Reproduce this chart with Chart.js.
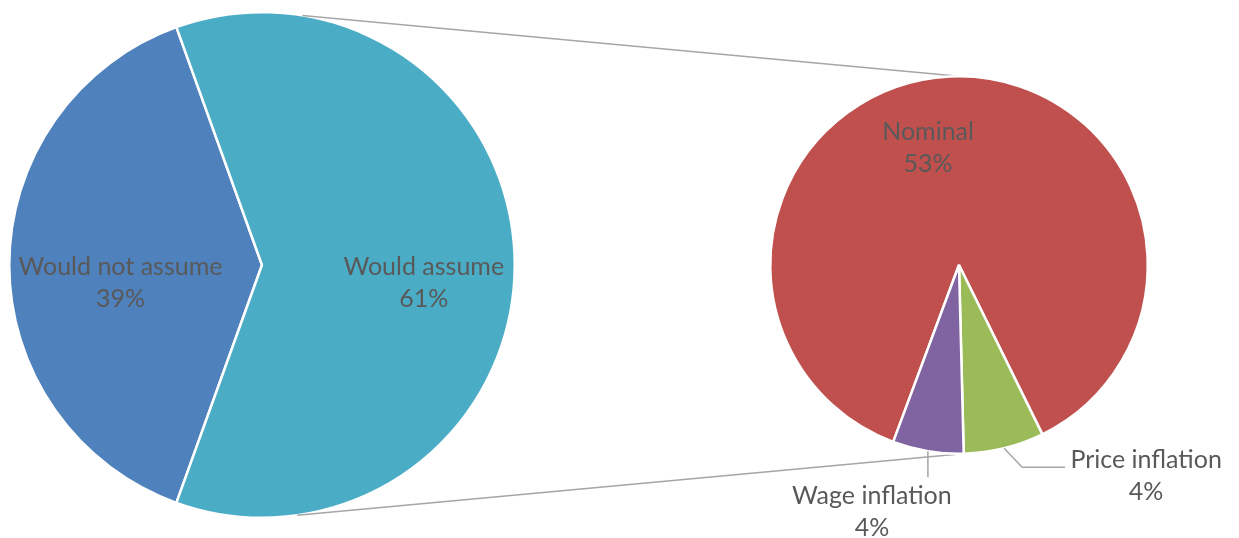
<!DOCTYPE html>
<html>
<head>
<meta charset="utf-8">
<script src="https://cdn.jsdelivr.net/npm/chart.js@4"></script>
<style>
    html, body { margin: 0; padding: 0; background: #ffffff; overflow: hidden; }
    #wrap { position: relative; width: 1239px; height: 538px; }
    #wrap canvas { position: absolute; left: 0; top: 0; }
</style>
</head>
<body>
<div id="wrap">
    <canvas id="primaryChart" width="1239" height="538"></canvas>
    <canvas id="secondaryChart" width="1239" height="538"></canvas>
</div>
<script>
const primaryLabels = ["Would not assume", "Would assume"];
const primaryValues = [39, 61];
const primaryColors = ["#4F81BD", "#4BACC6"];

const secondaryLabels = ["Nominal", "Price inflation", "Wage inflation"];
const secondaryValues = [53.1, 4.2, 3.7];
const secondaryColors = ["#C0504D", "#9BBB59", "#8064A2"];

const FONT = "25px Lato";
const TEXT_COLOR = "#595959";
const LINE_COLOR = "#A6A6A6";
const LINE_HEIGHT = 32;

let charts = {};

// point on a pie's rim, angle in degrees clockwise from 12 o'clock
function rimPoint(arc, deg, frac) {
    const a = deg * Math.PI / 180;
    const r = arc.outerRadius * (frac === undefined ? 1 : frac);
    return { x: arc.x + r * Math.sin(a), y: arc.y - r * Math.cos(a) };
}

function midDeg(arc) {
    return ((arc.startAngle + arc.endAngle) / 2) * 180 / Math.PI + 90;
}

const sliceLabels = {
    id: "sliceLabels",
    afterDatasetsDraw(chart, args, opts) {
        const ctx = chart.ctx;
        const meta = chart.getDatasetMeta(0);
        const values = chart.data.datasets[0].data;

        ctx.save();
        ctx.font = FONT;
        ctx.fillStyle = TEXT_COLOR;
        ctx.textAlign = "center";
        ctx.textBaseline = "middle";

        meta.data.forEach((arc, i) => {
            const p = opts.place[i];
            const props = arc.getProps(["x", "y", "startAngle", "endAngle", "outerRadius"], true);
            const lines = [chart.data.labels[i], Math.round(values[i]) + "%"];
            let ax, ay;

            if (p.leader) {
                const edge = rimPoint(props, midDeg(props), 1);
                ctx.strokeStyle = LINE_COLOR;
                ctx.lineWidth = 1.5;
                ctx.beginPath();
                p.leader.forEach((d, k) => {
                    if (k === 0) ctx.moveTo(edge.x + d[0], edge.y + d[1]);
                    else ctx.lineTo(edge.x + d[0], edge.y + d[1]);
                });
                ctx.stroke();
                ax = edge.x + p.dx;
                ay = edge.y + p.dy;
            } else {
                const pt = rimPoint(props, midDeg(props), p.r);
                ax = pt.x + (p.dx || 0);
                ay = pt.y + (p.dy || 0);
            }

            ctx.fillText(lines[0], ax, ay - LINE_HEIGHT / 2);
            ctx.fillText(lines[1], ax, ay + LINE_HEIGHT / 2);
        });

        ctx.restore();
    }
};

const connectors = {
    id: "connectors",
    beforeDatasetsDraw(chart, args, opts) {
        const other = charts.primary;
        if (!other) return;

        const a1 = other.getDatasetMeta(0).data[0].getProps(["x", "y", "outerRadius"], true);
        const a2 = chart.getDatasetMeta(0).data[0].getProps(["x", "y", "outerRadius"], true);
        const ctx = chart.ctx;

        ctx.save();
        ctx.strokeStyle = LINE_COLOR;
        ctx.lineWidth = 1.5;
        opts.pairs.forEach(pair => {
            const p = rimPoint(a1, pair[0], 1);
            const q = rimPoint(a2, pair[1], 1);
            ctx.beginPath();
            ctx.moveTo(p.x, p.y);
            ctx.lineTo(q.x, q.y);
            ctx.stroke();
        });
        ctx.restore();
    }
};

function pieConfig(labels, values, colors, rotation, padding, pluginOpts) {
    return {
        type: "pie",
        data: {
            labels: labels,
            datasets: [{
                data: values,
                backgroundColor: colors,
                borderColor: "#ffffff",
                borderWidth: 2.5
            }]
        },
        options: {
            responsive: false,
            animation: false,
            rotation: rotation,
            layout: { padding: padding },
            plugins: Object.assign({
                legend: { display: false },
                tooltip: { enabled: false }
            }, pluginOpts)
        },
        plugins: [sliceLabels, connectors]
    };
}

function init() {
    const sum1 = primaryValues.reduce((s, v) => s + v, 0);
    const rot1 = 270 - primaryValues[0] / sum1 * 360 / 2;

    charts.primary = new Chart(
        document.getElementById("primaryChart").getContext("2d"),
        pieConfig(primaryLabels, primaryValues, primaryColors, rot1,
            { left: 8, top: 11, right: 723, bottom: 19 },
            {
                sliceLabels: { place: [{ r: 0.56, dy: 18 }, { r: 0.64, dy: 18 }] },
                connectors: { pairs: [] }
            })
    );

    charts.secondary = new Chart(
        document.getElementById("secondaryChart").getContext("2d"),
        pieConfig(secondaryLabels, secondaryValues, secondaryColors, 200.4,
            { left: 769, top: 75, right: 90, bottom: 83 },
            {
                sliceLabels: {
                    place: [
                        { r: 0.62, dx: -25, dy: 0 },
                        { leader: [[0, 0], [18, 19], [61, 19]], dx: 142, dy: 28 },
                        { leader: [[0, 0], [0, 26]], dx: -56, dy: 61 }
                    ]
                },
                connectors: { pairs: [[9.2, 0], [172, 179]] }
            })
    );
}

window.onload = init;
</script>
</body>
</html>
